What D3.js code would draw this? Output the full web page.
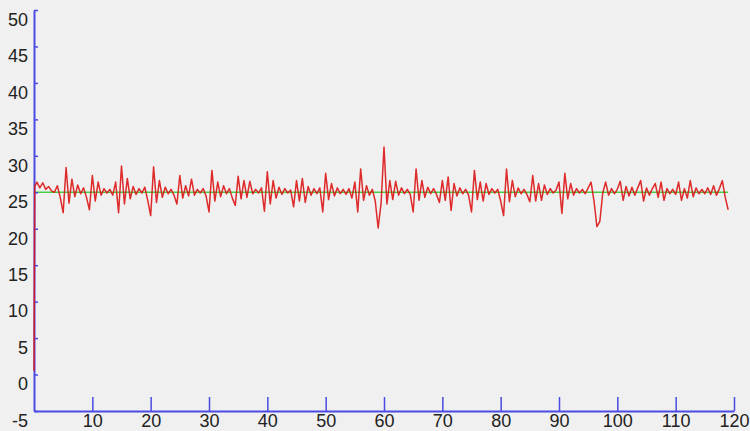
<!DOCTYPE html>
<html>
<head>
<meta charset="utf-8">
<script src="https://cdn.jsdelivr.net/npm/d3@7"></script>
<style>
  html, body { margin: 0; padding: 0; background: #f0f0f0; }
  svg { display: block; }
  .axis text { font-family: "Liberation Sans", Arial, sans-serif; font-size: 18px; fill: #222; }
</style>
</head>
<body>
<svg id="chart" width="750" height="431"></svg>
<script>
// ---- data ----
const yTicks = [-5, 0, 5, 10, 15, 20, 25, 30, 35, 40, 45, 50];
const xTicks = [10, 20, 30, 40, 50, 60, 70, 80, 90, 100, 110, 120];
const setpoint = 25;
const setpointT = [0, 119];
const startT = [0, 0.12];
const startV = [0.5, 25.8];
const sampleStart = 0.5;
const sampleStep = 0.5;
const signal = [
  26.4, 25.6, 26.3, 25.4, 25.8, 25.2, 25.0, 25.9, 24.3,
  22.2, 28.4, 23.5, 26.8, 24.4, 26.0, 24.8, 25.6, 24.3, 22.6,
  27.3, 23.8, 26.4, 24.6, 25.5, 24.9, 25.4, 24.6, 26.4, 22.2,
  28.6, 23.4, 26.9, 24.1, 25.8, 24.7, 25.5, 24.9, 25.7, 23.9,
  21.8, 28.5, 23.6, 26.6, 24.3, 25.7, 24.8, 25.4, 24.6, 23.4,
  27.3, 24.2, 25.9, 24.5, 26.8, 24.6, 25.4, 24.9, 25.5, 24.5,
  22.3, 28.0, 23.8, 26.4, 24.4, 25.9, 24.8, 25.5, 24.2, 23.2,
  27.2, 24.1, 26.6, 24.3, 26.5, 24.8, 25.4, 24.9, 25.6, 22.4,
  27.8, 23.4, 26.6, 24.2, 25.7, 24.7, 25.5, 24.9, 25.3, 23.0,
  26.6, 23.8, 26.9, 23.6, 25.8, 24.6, 25.5, 24.8, 25.6, 22.3,
  27.6, 24.0, 26.2, 24.5, 25.6, 24.8, 25.4, 24.7, 25.5, 24.2,
  26.4, 22.3, 28.2, 23.9, 25.9, 24.6, 25.4, 23.8, 20.1, 23.5,
  31.2, 23.4, 26.6, 24.0, 26.5, 24.6, 25.6, 24.8, 25.4, 24.7,
  22.3, 28.2, 23.9, 26.6, 24.3, 25.7, 24.8, 25.5, 24.7, 23.6,
  26.6, 23.9, 27.1, 22.5, 26.2, 24.5, 25.6, 24.8, 25.4, 24.6,
  22.3, 28.0, 24.0, 26.4, 23.8, 26.2, 24.7, 25.5, 24.9, 25.4,
  23.8, 21.8, 28.2, 23.7, 26.6, 24.4, 25.6, 24.8, 25.4, 24.7,
  23.7, 27.3, 23.8, 26.2, 23.9, 26.0, 24.7, 25.5, 24.9, 25.3,
  26.4, 22.1, 27.6, 24.1, 26.2, 24.6, 25.5, 24.9, 25.4, 24.8,
  25.6, 26.4, 23.8, 20.3, 21.0, 24.9, 26.4, 24.6, 25.5, 24.8,
  25.4, 26.5, 23.9, 25.8, 24.5, 25.7, 24.6, 25.6, 26.6, 23.8,
  25.6, 24.6, 25.5, 26.2, 24.3, 26.4, 23.9, 25.5, 24.8, 25.4,
  24.7, 26.4, 23.9, 25.5, 24.2, 26.6, 24.4, 25.6, 24.8, 25.4,
  24.8, 25.6, 24.7, 25.9, 24.6, 25.5, 26.6, 24.3, 22.6
];

// ---- layout ----
const svg = d3.select("#chart");
const x = d3.scaleLinear().domain([0, 120]).range([34, 734]);
const y = d3.scaleLinear().domain([-5, 50]).range([411, 10]);
const blue = "#4b4be3";

const pts = startT.map((t, i) => [t, startV[i]])
  .concat(signal.map((v, i) => [sampleStart + i * sampleStep, v]));

const line = d3.line().x(d => x(d[0])).y(d => y(d[1]));

// setpoint (green)
svg.append("path")
  .datum(setpointT.map(t => [t, setpoint]))
  .attr("d", line)
  .attr("fill", "none")
  .attr("stroke", "#44d044")
  .attr("stroke-width", 1.3);

// axes
const gy = svg.append("g").attr("class", "axis")
  .attr("transform", `translate(${x(0)},0)`)
  .call(d3.axisLeft(y).tickValues(yTicks).tickSize(-4).tickSizeOuter(0).tickPadding(6).tickFormat(d => String(d)));
gy.selectAll("text").attr("dy", "0.85em").attr("x", -6);
gy.select(".domain").attr("stroke", blue).attr("stroke-width", 2);
gy.selectAll(".tick line").attr("stroke", blue).attr("stroke-width", 1.5);

const gx = svg.append("g").attr("class", "axis")
  .attr("transform", `translate(0,${y(-5)})`)
  .call(d3.axisBottom(x).tickValues(xTicks).tickSize(-14).tickSizeOuter(0).tickPadding(3).tickFormat(d => String(d)));
gx.select(".domain").attr("stroke", blue).attr("stroke-width", 2);
gx.selectAll(".tick line").attr("stroke", blue).attr("stroke-width", 1.5);

// signal (red)
svg.append("path")
  .datum(pts)
  .attr("d", line)
  .attr("fill", "none")
  .attr("stroke", "#dc1414")
  .attr("stroke-width", 1.5)
  .attr("stroke-linejoin", "round")
  .attr("opacity", 0.9);
</script>
</body>
</html>
